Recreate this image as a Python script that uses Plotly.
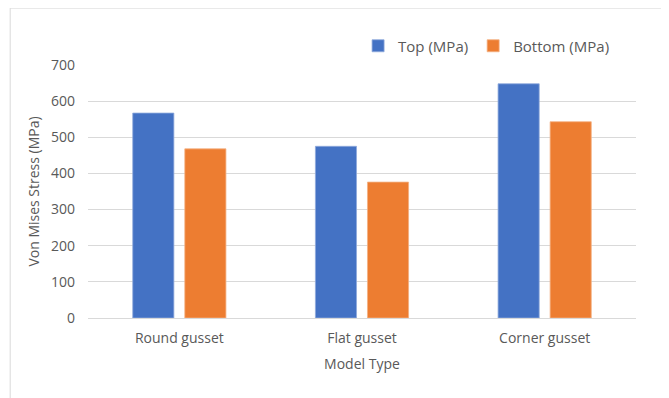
import plotly.graph_objects as go

categories = ["Round gusset", "Flat gusset", "Corner gusset"]
top_mpa = [567, 475, 648]
bottom_mpa = [468, 376, 543]
series_names = ["Top (MPa)", "Bottom (MPa)"]
y_ticks = [0, 100, 200, 300, 400, 500, 600, 700]

font_family = "Open Sans, Liberation Sans, sans-serif"
grey = "#595959"

fig = go.Figure()
fig.add_trace(go.Bar(x=categories, y=top_mpa, name=series_names[0],
                     marker=dict(color="#4472C4", line=dict(color="#8faadc", width=0.8))))
fig.add_trace(go.Bar(x=categories, y=bottom_mpa, name=series_names[1],
                     marker=dict(color="#ED7D31", line=dict(color="#f4b183", width=0.8))))

fig.update_layout(
    width=661, height=390,
    margin=dict(l=80, r=33, t=57, b=80, autoexpand=False),
    paper_bgcolor="white", plot_bgcolor="white",
    barmode="group", bargap=0.43, bargroupgap=0.21,
    font=dict(family=font_family, size=14, color=grey),
    showlegend=True,
    legend=dict(orientation="h", x=0.96, xanchor="right", y=1.075, yanchor="middle",
                font=dict(size=15, color=grey), itemwidth=30, traceorder="normal"),
    xaxis=dict(showgrid=False, showline=True, linecolor="#d9d9d9", linewidth=1,
               ticks="", tickfont=dict(size=14, color=grey), automargin=False,
               ticklabelstandoff=7,
               title=dict(text="Model Type", font=dict(size=14, color=grey), standoff=13)),
    yaxis=dict(range=[0, 700], tickvals=y_ticks, showgrid=True, gridcolor="#d9d9d9",
               gridwidth=1, zeroline=False, showline=False, ticks="", automargin=False,
               tickfont=dict(size=14, color=grey), ticklabelstandoff=12,
               title=dict(text="Von Mises Stress (MPa)", font=dict(size=14, color=grey), standoff=8)),
    shapes=[dict(type="rect", xref="paper", yref="paper",
                 x0=-0.142, x1=1.055, y0=-0.5, y1=1.225,
                 line=dict(color="#d9d9d9", width=1), fillcolor="rgba(0,0,0,0)", layer="below")],
)

fig.write_html("out.html")
